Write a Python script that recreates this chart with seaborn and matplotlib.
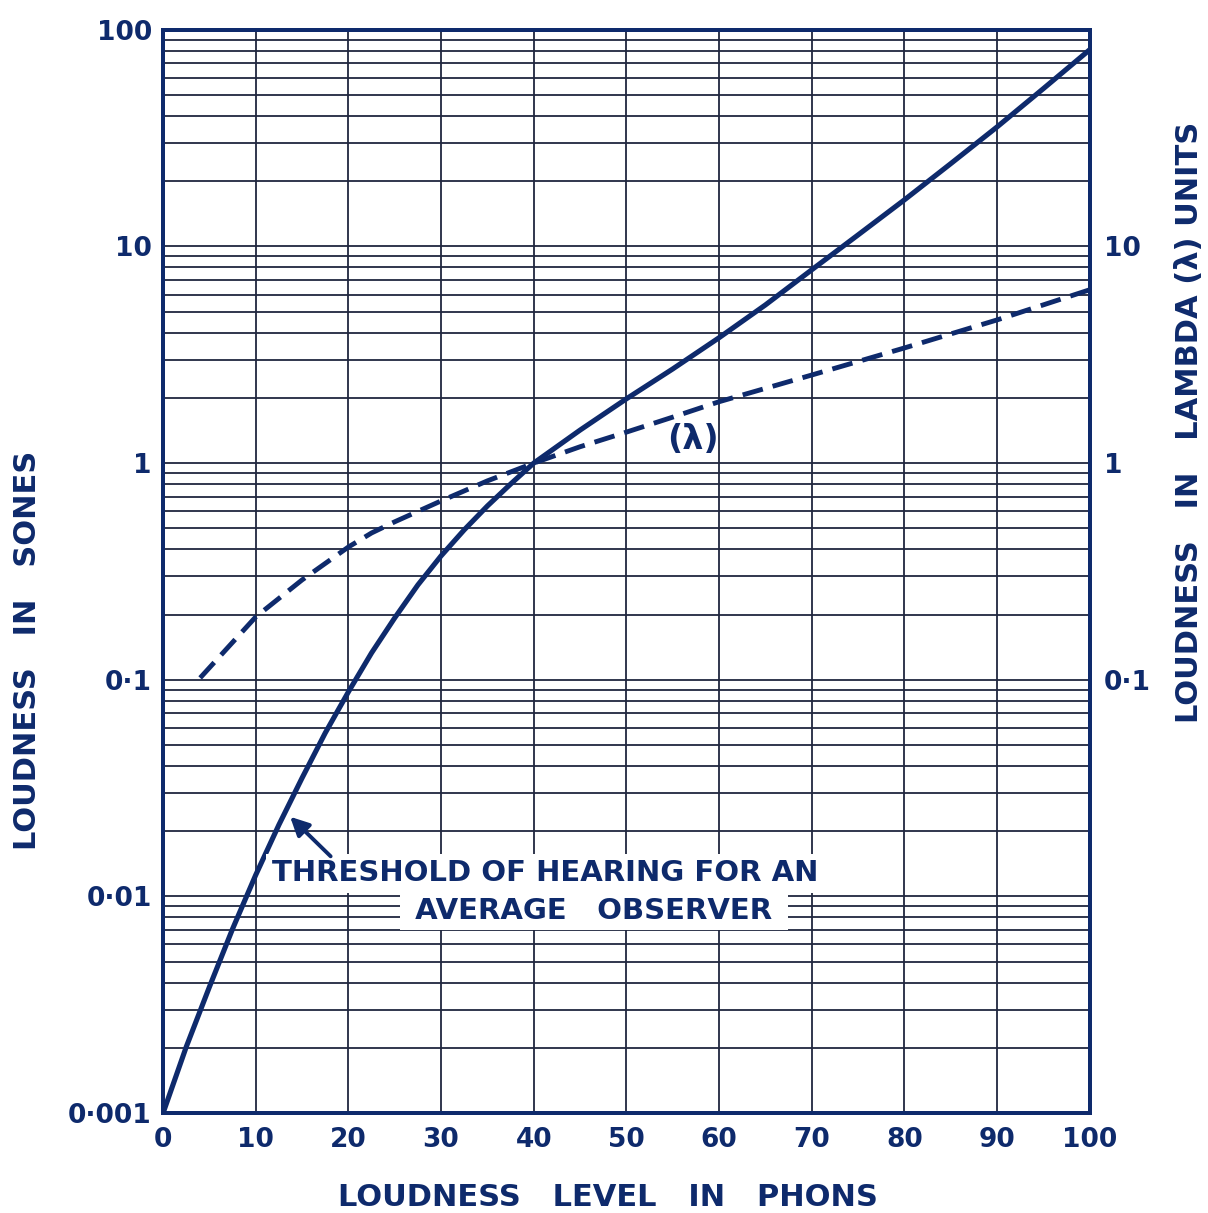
import numpy as np
import matplotlib
matplotlib.use('Agg')
import matplotlib.pyplot as plt
import seaborn as sns
from matplotlib.ticker import FixedLocator, LogLocator, NullFormatter

# Loudness in sones vs loudness level (solid curve)
phons_sones = [0, 2.5, 5, 7.5, 10, 12.5, 15, 17.5, 20, 22.5, 25, 27.5, 30, 32.5, 35, 37.5, 40,
               45, 50, 55, 60, 65, 70, 75, 80, 85, 90, 95, 100]
sones = [0.001, 0.00202, 0.00382, 0.00708, 0.01256, 0.0214, 0.0352, 0.0568, 0.0879, 0.133,
         0.193, 0.274, 0.373, 0.492, 0.634, 0.80, 1.0,
         1.42, 1.98, 2.72, 3.79, 5.37, 7.80, 11.3, 16.4, 24.1, 35.6, 53.5, 80.9]

# Loudness in lambda units (dashed curve)
phons_lambda = [4, 10, 15, 20, 22.5, 25, 30, 35, 40, 45, 50, 55, 60, 70, 80, 90, 100]
lambda_units = [0.102, 0.195, 0.289, 0.410, 0.476, 0.536, 0.669, 0.828, 1.0, 1.19, 1.39, 1.63,
                1.92, 2.55, 3.40, 4.58, 6.31]

x_ticks = list(range(0, 101, 10))
left_ticks = [0.001, 0.01, 0.1, 1, 10, 100]
left_labels = ['0·001', '0·01', '0·1', '1', '10', '100']
right_ticks = [0.1, 1, 10]
right_labels = ['0·1', '1', '10']

ink = '#0e2a6c'
grid_ink = '#20263f'

sns.set_style('white')
plt.rcParams['font.family'] = ['DejaVu Sans']
plt.rcParams['font.weight'] = 'bold'

fig = plt.figure(figsize=(12.08, 12.13), dpi=100)
ax = fig.add_axes([0.135, 0.0824, 0.767, 0.893])

sns.lineplot(x=phons_sones, y=sones, ax=ax, color=ink, linewidth=3.7)
sns.lineplot(x=phons_lambda, y=lambda_units, ax=ax, color=ink, linewidth=3.5,
             linestyle=(0, (4.3, 2.1)))

ax.set_yscale('log')
ax.set_xlim(0, 100)
ax.set_ylim(0.001, 100)
ax.set_xticks(x_ticks)
ax.set_xticklabels([str(t) for t in x_ticks])
ax.yaxis.set_major_locator(FixedLocator(left_ticks))
ax.set_yticklabels(left_labels)
ax.yaxis.set_minor_locator(LogLocator(base=10, subs=np.arange(2, 10)))
ax.yaxis.set_minor_formatter(NullFormatter())
ax.grid(which='both', axis='both', color=grid_ink, linewidth=1.3)
ax.set_axisbelow(True)
ax.tick_params(axis='both', which='both', length=0, labelsize=19, labelcolor=ink)
ax.tick_params(axis='x', pad=10)
ax.tick_params(axis='y', pad=8)
for s in ax.spines.values():
    s.set_color(ink)
    s.set_linewidth(2.8)
ax.set_xlabel('')
ax.set_ylabel('')

ax2 = ax.twinx()
ax2.set_yscale('log')
ax2.set_ylim(0.001, 100)
ax2.yaxis.set_major_locator(FixedLocator(right_ticks))
ax2.set_yticklabels(right_labels)
ax2.yaxis.set_minor_formatter(NullFormatter())
ax2.tick_params(axis='y', which='both', length=0, labelsize=19, labelcolor=ink, pad=10)
for s in ax2.spines.values():
    s.set_color(ink)
    s.set_linewidth(2.8)

# curve labels
ax.text(57.2, 1.28, '(λ)', fontsize=24, color=ink, ha='center', va='center')
box = dict(facecolor='white', edgecolor='none', pad=4)
ax.text(41.2, 0.0128, 'THRESHOLD OF HEARING FOR AN', fontsize=21, color=ink,
        ha='center', va='center', bbox=box)
ax.text(46.5, 0.0086, ' AVERAGE   OBSERVER ', fontsize=21, color=ink,
        ha='center', va='center', bbox=box)
ax.annotate('', xy=(13.5, 0.0238), xytext=(18.3, 0.015),
            arrowprops=dict(arrowstyle='-|>', color=ink, lw=2.8, mutation_scale=28))

# axis titles
fig.text(0.503, 0.013, 'LOUDNESS   LEVEL   IN   PHONS', fontsize=22, color=ink,
         ha='center', va='center')
fig.text(0.023, 0.464, 'LOUDNESS   IN   SONES', fontsize=22, color=ink,
         ha='center', va='center', rotation=90)
fig.text(0.985, 0.652, 'LOUDNESS   IN   LAMBDA (λ) UNITS', fontsize=22, color=ink,
         ha='center', va='center', rotation=90)

fig.savefig('out.png', dpi=100)
